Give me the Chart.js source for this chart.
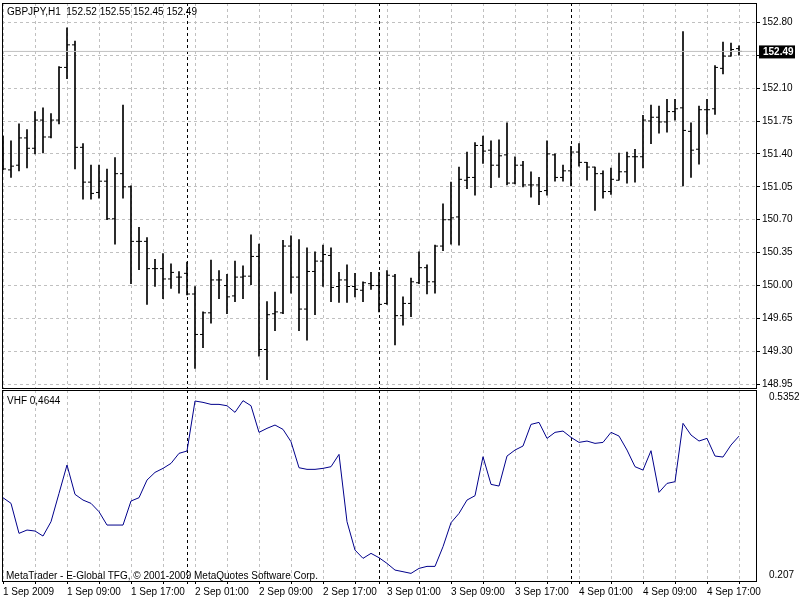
<!DOCTYPE html>
<html><head><meta charset="utf-8">
<script src="https://cdn.jsdelivr.net/npm/chart.js@4"></script>
<style>
body{margin:0;background:#fff;width:800px;height:600px;position:relative;overflow:hidden;font-family:"Liberation Sans",sans-serif}
canvas{position:absolute;left:0}
.t{position:absolute;font-size:10px;color:#000;white-space:pre}
</style></head><body>
<canvas id="c2" width="800" height="220" style="top:380px"></canvas>
<canvas id="c1" width="800" height="402" style="top:-5px"></canvas>
<div class="t" style="left:7px;top:6px">GBPJPY,H1  152.52 152.55 152.45 152.49</div>
<div class="t" style="left:7px;top:395px">VHF 0,4644</div>
<div class="t" style="left:6px;top:570px">MetaTrader - E-Global TFG, © 2001-2009 MetaQuotes Software Corp.</div>
<script>
const opens=[151.40,151.23,151.28,151.57,151.46,151.76,151.58,151.76,152.32,152.56,151.47,151.10,150.99,151.11,150.71,151.19,151.05,150.47,150.47,150.18,150.18,150.07,150.09,150.13,149.91,149.48,149.71,150.06,150.00,149.89,150.09,150.10,150.31,149.32,149.70,149.71,150.42,150.09,149.75,150.15,150.26,150.32,149.99,150.06,149.99,149.95,150.02,150.00,149.81,150.10,149.68,149.81,150.03,150.19,150.04,150.42,150.70,150.73,151.12,151.15,151.49,151.44,151.28,151.39,151.09,151.28,151.07,151.07,151.01,151.39,151.15,151.22,151.42,151.31,151.26,151.19,151.00,151.12,151.21,151.37,151.37,151.75,151.79,151.74,151.85,151.89,151.64,151.45,151.87,151.88,152.31,152.44,152.52];
const highs=[151.59,151.54,151.72,151.66,151.85,151.89,151.83,152.33,152.74,152.60,151.51,151.28,151.28,151.24,151.36,151.92,151.06,150.62,150.51,150.28,150.34,150.23,150.15,150.25,149.99,149.72,150.27,150.16,150.12,150.26,150.21,150.54,150.44,149.83,149.93,150.48,150.53,150.49,150.40,150.36,150.43,150.40,150.14,150.22,150.13,150.04,150.14,150.14,150.16,150.12,149.88,150.08,150.36,150.22,150.43,150.87,151.10,151.26,151.42,151.52,151.59,151.54,151.55,151.73,151.37,151.32,151.21,151.15,151.54,151.40,151.28,151.48,151.51,151.31,151.26,151.22,151.25,151.41,151.42,151.45,151.81,151.92,151.91,151.98,151.98,152.70,151.73,151.91,151.98,152.34,152.59,152.58,152.55];
const lows=[151.23,151.15,151.22,151.25,151.40,151.41,151.57,151.72,152.20,151.24,150.92,150.92,150.93,150.70,150.44,150.93,150.02,150.17,149.80,149.99,149.86,149.97,149.92,149.90,149.12,149.34,149.60,149.86,149.70,149.83,149.86,150.01,149.25,149.00,149.52,149.70,149.92,149.52,149.42,149.69,149.99,149.83,149.82,149.82,149.88,149.83,149.96,149.72,149.80,149.37,149.58,149.67,150.02,149.91,149.92,150.37,150.44,150.43,151.03,150.96,151.30,151.04,151.15,151.07,151.08,151.05,150.94,150.86,150.96,151.11,151.11,151.06,151.27,151.12,150.80,150.93,150.97,151.12,151.09,151.10,151.25,151.51,151.62,151.63,151.76,151.06,151.15,151.29,151.61,151.82,152.25,152.44,152.45];
const closes=[151.24,151.27,151.57,151.46,151.76,151.58,151.76,152.32,152.56,151.47,151.10,150.98,151.11,150.71,151.19,151.05,150.47,150.47,150.18,150.18,150.07,150.14,150.09,149.91,149.48,149.71,150.06,150.06,149.88,150.09,150.10,150.31,149.32,149.69,149.72,150.42,150.09,149.75,150.15,150.26,150.33,149.98,150.06,149.99,149.96,150.03,150.00,149.80,150.11,149.68,149.81,150.04,150.19,150.04,150.42,150.70,150.72,151.13,151.15,151.49,151.43,151.28,151.38,151.09,151.28,151.07,151.07,151.00,151.40,151.15,151.22,151.42,151.31,151.26,151.19,151.00,151.13,151.21,151.37,151.37,151.76,151.79,151.74,151.85,151.88,151.65,151.44,151.87,151.87,152.32,152.44,152.51,152.49];
const vhf=[0.3508,0.3404,0.2851,0.2912,0.2894,0.2801,0.3066,0.3588,0.4111,0.3570,0.3465,0.3404,0.3250,0.3004,0.3004,0.3004,0.3447,0.3508,0.3834,0.3975,0.4049,0.4141,0.4326,0.4369,0.5291,0.5266,0.5229,0.5229,0.5204,0.5082,0.5297,0.5204,0.4713,0.4787,0.4848,0.4768,0.4541,0.4061,0.4031,0.4031,0.4049,0.4080,0.4307,0.3066,0.2543,0.2390,0.2482,0.2402,0.2297,0.2174,0.2144,0.2113,0.2205,0.2242,0.2242,0.2605,0.3047,0.3219,0.3465,0.3545,0.4264,0.3754,0.3723,0.4276,0.4387,0.4461,0.4860,0.4897,0.4602,0.4713,0.4737,0.4621,0.4528,0.4553,0.4510,0.4528,0.4713,0.4645,0.4387,0.4080,0.4018,0.4375,0.3607,0.3772,0.3803,0.4879,0.4664,0.4553,0.4602,0.4276,0.4258,0.4479,0.4644];
const priceTicks=[148.95,149.30,149.65,150.00,150.35,150.70,151.05,151.40,151.75,152.10,152.45,152.80];
const vhfTicks=[0.207,0.5352];
const timeLabels={0:"1 Sep 2009",8:"1 Sep 09:00",16:"1 Sep 17:00",24:"2 Sep 01:00",32:"2 Sep 09:00",40:"2 Sep 17:00",48:"3 Sep 01:00",56:"3 Sep 09:00",64:"3 Sep 17:00",72:"4 Sep 01:00",80:"4 Sep 09:00",88:"4 Sep 17:00"};
const daySeps=[23,47,71];
const bid=152.49;

const FONT={family:"Liberation Sans",size:10};
const xTicks=[];for(let i=0;i<=92;i+=4)xTicks.push(i);
const allX=xTicks.concat(daySeps).sort((a,b)=>a-b);
function xScale(showLabels){
  return {type:'linear',min:-0.125,max:94.25,offset:false,
    afterBuildTicks:s=>{s.ticks=allX.map(v=>({value:v}));},
    afterFit:s=>{s.height=showLabels?18:0;},
    grid:{offset:false,color:c=>daySeps.includes(c.tick&&c.tick.value)?'#000':'#c0c0c0',drawTicks:showLabels,tickLength:2,tickColor:'#000'},
    border:{display:false,dash:[3,3]},
    ticks:{display:showLabels,autoSkip:false,maxRotation:0,align:'start',padding:2,color:'#000',font:FONT,
      callback:v=>timeLabels[v]||''}};
}
const frame={id:'frame',afterDraw(ch){const a=ch.chartArea,c=ch.ctx;c.save();c.strokeStyle='#000';c.lineWidth=1;c.strokeRect(Math.round(a.left)+0.5,Math.round(a.top)+0.5,Math.round(a.right-a.left)-1,Math.round(a.bottom-a.top)-1);c.restore();}};
const bidLabel={id:'bidLabel',afterDraw(ch){const y=ch.scales.y.getPixelForValue(bid),c=ch.ctx;c.save();c.fillStyle='#000';c.fillRect(759,y-6,36,13);c.fillStyle='#fff';c.font='bold 10px "Liberation Sans"';c.textBaseline='middle';c.fillText(bid.toFixed(2),763,y+0.5);c.restore();}};
Chart.defaults.devicePixelRatio=1;

new Chart(document.getElementById('c1'),{
  data:{datasets:[
    {type:'line',data:[{x:-0.125,y:bid},{x:94.25,y:bid}],borderColor:'#c0c0c0',borderWidth:1,pointRadius:0},
    {type:'bar',data:highs.map((h,i)=>({x:i,y:[lows[i],h]})),backgroundColor:'#000',barThickness:1,borderWidth:0},
    {type:'scatter',data:opens.map((o,i)=>({x:i-0.1875,y:o})),pointStyle:'line',radius:1.5,borderColor:'#000',borderWidth:1},
    {type:'scatter',data:closes.map((o,i)=>({x:i+0.1875,y:o})),pointStyle:'line',radius:1.5,borderColor:'#000',borderWidth:1}
  ]},
  options:{animation:false,responsive:false,events:[],
    layout:{autoPadding:false,padding:{left:2,top:3,bottom:2,right:0}},
    plugins:{legend:{display:false},tooltip:{enabled:false}},
    scales:{x:xScale(false),
      y:{position:'right',min:148.90,max:153.005,
        afterBuildTicks:s=>{s.ticks=priceTicks.map(v=>({value:v}));},
        afterFit:s=>{s.width=43;},
        grid:{color:'#c0c0c0',tickColor:'#000',tickLength:3},
        border:{display:false,dash:[3,3]},
        ticks:{color:'#000',font:FONT,padding:2,callback:v=>v.toFixed(2)}}}},
  plugins:[frame,bidLabel]});

new Chart(document.getElementById('c2'),{
  data:{datasets:[
    {type:'line',data:vhf.map((v,i)=>({x:i,y:v})),borderColor:'#00008b',borderWidth:1,pointRadius:0,tension:0}
  ]},
  options:{animation:false,responsive:false,events:[],
    layout:{autoPadding:false,padding:{left:2,top:4,bottom:0,right:0}},
    plugins:{legend:{display:false},tooltip:{enabled:false}},
    scales:{x:xScale(true),
      y:{position:'right',min:0.1954,max:0.5494,
        afterBuildTicks:s=>{s.ticks=vhfTicks.map(v=>({value:v}));},
        afterFit:s=>{s.width=43;},
        grid:{display:false},
        border:{display:false},
        ticks:{color:'#000',font:FONT,padding:4,callback:v=>String(v)}}}},
  plugins:[frame]});
</script></body></html>
